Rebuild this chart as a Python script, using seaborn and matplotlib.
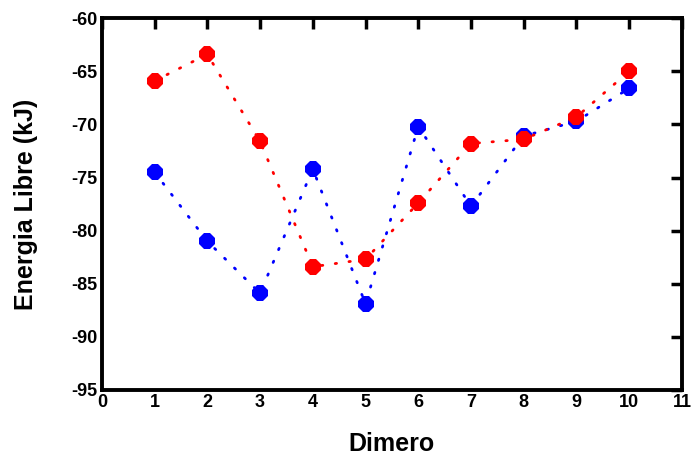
import matplotlib
matplotlib.use("Agg")
import matplotlib.pyplot as plt
import seaborn as sns
import pandas as pd

dimero = [1, 2, 3, 4, 5, 6, 7, 8, 9, 10]
red_vals = [-65.9, -63.4, -71.6, -83.4, -82.7, -77.4, -71.8, -71.4, -69.3, -65.0]
blue_vals = [-74.5, -81.0, -85.9, -74.2, -86.9, -70.2, -77.7, -71.1, -69.7, -66.6]
xticks = list(range(0, 12))
yticks = list(range(-95, -59, 5))

sns.set_theme(style="white")
plt.rcParams['font.family'] = ['Liberation Sans', 'DejaVu Sans']
plt.rcParams['axes.unicode_minus'] = False
plt.rcParams['text.color'] = 'black'
plt.rcParams['axes.labelcolor'] = 'black'

fig = plt.figure(figsize=(6.93, 4.55), dpi=100)
ax = fig.add_axes([0.147, 0.143, 0.837, 0.817])

df_red = pd.DataFrame({"x": dimero, "y": red_vals})
df_blue = pd.DataFrame({"x": dimero, "y": blue_vals})

sns.lineplot(data=df_blue, x="x", y="y", ax=ax, color="#0000ff", linestyle=(0, (0.5, 4.5)),
             linewidth=2.0, marker="8", markersize=13, markeredgewidth=0, dash_capstyle="round")
sns.lineplot(data=df_red, x="x", y="y", ax=ax, color="#ff0000", linestyle=(0, (0.5, 4.5)),
             linewidth=2.0, marker="8", markersize=13, markeredgewidth=0, dash_capstyle="round")

ax.set_xlim(0, 11)
ax.set_ylim(-95, -60)
ax.set_xticks(xticks)
ax.set_yticks(yticks)
ax.tick_params(direction="in", length=8, width=2.5, top=True, right=True,
               labelsize=13, pad=3, colors="black", labelcolor="black")
for lab in ax.get_xticklabels() + ax.get_yticklabels():
    lab.set_fontweight("bold")
for sp in ax.spines.values():
    sp.set_linewidth(2.8)
    sp.set_color("black")
ax.set_xlabel("Dimero", fontsize=18, fontweight="bold", labelpad=15, color="black")
ax.set_ylabel("Energia Libre (kJ)", fontsize=18, fontweight="bold", labelpad=24, color="black")

fig.savefig("out.png", dpi=100)
